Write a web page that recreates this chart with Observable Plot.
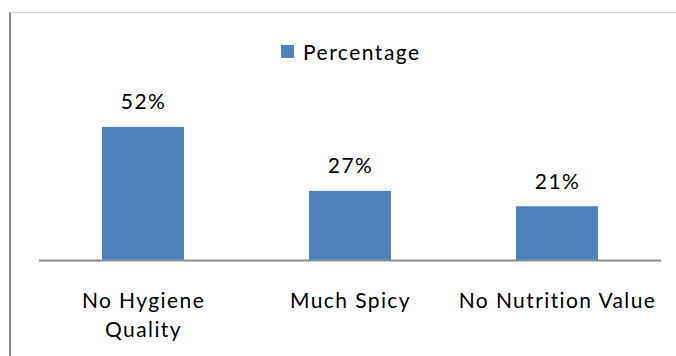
<!DOCTYPE html>
<html>
<head>
<meta charset="utf-8">
<script src="https://cdn.jsdelivr.net/npm/d3@7"></script>
<script src="https://cdn.jsdelivr.net/npm/@observablehq/plot@0.6"></script>
<style>
  html, body { margin: 0; padding: 0; background: #fff; }
  #wrap { position: relative; width: 676px; height: 356px; overflow: hidden; font-family: Lato, "Open Sans", sans-serif; }
  #frame { position: absolute; left: 9px; top: 12px; right: -2px; bottom: -2px;
           border-left: 2px solid #8c8c8c; border-top: 1px solid #d4d4d4; }
  #legend { position: absolute; left: 281px; top: 39px; display: flex; align-items: center;
            font-size: 21px; letter-spacing: 1.5px; color: #000; }
  #legend .swatch { width: 13px; height: 13px; background: #4f81bd; margin-right: 9px; }
  #wrap svg { position: absolute; left: 0; top: 0; letter-spacing: 1.4px; }
</style>
</head>
<body>
<div id="wrap">
  <div id="frame"></div>
  <div id="legend"><div class="swatch"></div><span>Percentage</span></div>
</div>
<script>
// Reasons given for avoiding street food, share of respondents (%)
const categories = ["No Hygiene Quality", "Much Spicy", "No Nutrition Value"];
const values = [52, 27, 21];
const tickLabels = ["No Hygiene\nQuality", "Much Spicy", "No Nutrition Value"];
const seriesName = "Percentage";

const rows = categories.map((c, i) => ({category: c, value: values[i], label: tickLabels[i]}));
const barColor = "#4f81bd";

const chart = Plot.plot({
  width: 676,
  height: 356,
  marginLeft: 39,
  marginRight: 15,
  marginTop: 4,
  marginBottom: 96,
  style: {fontFamily: "Lato, 'Open Sans', sans-serif", fontSize: "21px", color: "#000", background: "transparent", overflow: "visible"},
  x: {domain: categories, paddingInner: 0.605, paddingOuter: 0.3025, axis: null},
  y: {domain: [0, 100], axis: null},
  marks: [
    Plot.barY(rows, {x: "category", y: "value", fill: barColor}),
    Plot.ruleY([0], {stroke: "#8c8c8c", strokeWidth: 2}),
    Plot.text(rows, {x: "category", y: "value", text: d => `${d.value}%`, lineAnchor: "bottom", dy: -18, fill: "#000", fontSize: 21}),
    Plot.text(rows, {x: "category", y: () => 0, text: "label", lineAnchor: "top", dy: 27, lineHeight: 1.38, fill: "#000", fontSize: 21})
  ]
});
document.querySelector("#legend span").textContent = seriesName;
document.getElementById("wrap").appendChild(chart);
</script>
</body>
</html>
